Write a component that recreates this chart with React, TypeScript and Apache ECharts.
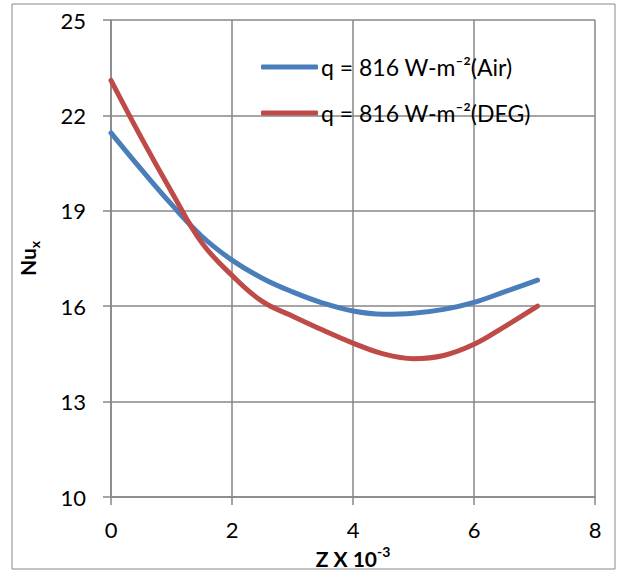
import React, { useEffect, useRef } from "react";
import * as echarts from "echarts";

const zValues = [0, 0.5, 1, 1.5, 2, 2.5, 3, 3.5, 4, 4.5, 5, 5.5, 6, 6.5, 7.05];
const airNu = [21.45, 20.3, 19.2, 18.2, 17.45, 16.88, 16.45, 16.1, 15.85, 15.75, 15.78, 15.9, 16.12, 16.45, 16.82];
const degNu = [23.1, 21.3, 19.6, 18.0, 16.97, 16.15, 15.69, 15.25, 14.84, 14.5, 14.35, 14.45, 14.8, 15.35, 16.0];
const yTicks = [10, 13, 16, 19, 22, 25];
const seriesNames = ["q = 816 W-m\u207B\u00B2(Air)", "q = 816 W-m\u207B\u00B2(DEG)"];
const colors = ["#4A7EBB", "#BE4B48"];

const FONT = "Lato";
const GRID = "#878787";

export default function App() {
  const ref = useRef<HTMLDivElement>(null);
  useEffect(() => {
    document.body.style.margin = "0";
    const chart = echarts.init(ref.current!, undefined, { renderer: "svg" });
    const mk = (xs: number[], ys: number[]) => xs.map((x, i) => [x, ys[i]]);
    chart.setOption({
      animation: false,
      textStyle: { fontFamily: FONT },
      graphic: [
        {
          type: "rect",
          shape: { x: 12, y: 4, width: 603, height: 565 },
          style: { fill: "none", stroke: GRID, lineWidth: 1 },
          z: -1,
        },
      ],
      grid: { left: 111, right: 22, top: 20, bottom: 74, outerBoundsMode: "none" },
      legend: {
        orient: "vertical",
        left: 256,
        top: 48,
        icon: "roundRect",
        itemWidth: 57,
        itemHeight: 5,
        itemGap: 18,
        textStyle: { fontFamily: FONT, fontSize: 23, color: "#000", lineHeight: 28, padding: [0, 0, 0, -2] },
        data: seriesNames,
      },
      xAxis: {
        type: "value",
        min: 0,
        max: 8,
        interval: 2,
        name: "{a|Z X 10}{b|-3}",
        nameLocation: "middle",
        nameGap: 42,
        nameTextStyle: {
          rich: {
            a: { fontFamily: FONT, fontSize: 21, fontWeight: "bold", color: "#000", lineHeight: 24, verticalAlign: "bottom" },
            b: { fontFamily: FONT, fontSize: 14, fontWeight: "bold", color: "#000", verticalAlign: "top", lineHeight: 24 },
          },
        },
        axisLine: { lineStyle: { color: GRID, width: 1.5 } },
        axisTick: { show: true, length: 8, lineStyle: { color: GRID, width: 1.5 } },
        splitLine: { show: true, lineStyle: { color: GRID, width: 1.5 } },
        axisLabel: { fontFamily: FONT, fontSize: 22, color: "#000", margin: 21 },
      },
      yAxis: {
        type: "value",
        min: 10,
        max: 25,
        interval: 3,
        name: "{a|Nu}{b|x}",
        nameLocation: "middle",
        nameGap: 70,
        nameTextStyle: {
          rich: {
            a: { fontFamily: FONT, fontSize: 21, fontWeight: "bold", color: "#000", lineHeight: 24, verticalAlign: "top" },
            b: { fontFamily: FONT, fontSize: 14, fontWeight: "bold", color: "#000", verticalAlign: "bottom", lineHeight: 24 },
          },
        },
        axisLine: { show: true, lineStyle: { color: GRID, width: 1.5 } },
        axisTick: { show: true, length: 8, customValues: yTicks, lineStyle: { color: GRID, width: 1.5 } },
        splitLine: { show: true, lineStyle: { color: GRID, width: 1.5 } },
        axisLabel: { fontFamily: FONT, fontSize: 22, color: "#000", margin: 25, customValues: yTicks },
      },
      series: [
        {
          name: seriesNames[0],
          type: "line",
          data: mk(zValues, airNu),
          smooth: 0.4,
          showSymbol: false,
          symbol: "none",
          lineStyle: { width: 5, color: colors[0], cap: "round" },
          itemStyle: { color: colors[0] },
        },
        {
          name: seriesNames[1],
          type: "line",
          data: mk(zValues, degNu),
          smooth: 0.4,
          showSymbol: false,
          symbol: "none",
          lineStyle: { width: 5, color: colors[1], cap: "round" },
          itemStyle: { color: colors[1] },
        },
      ],
    });
    return () => chart.dispose();
  }, []);
  return <div ref={ref} style={{ width: 617, height: 571 }} />;
}
